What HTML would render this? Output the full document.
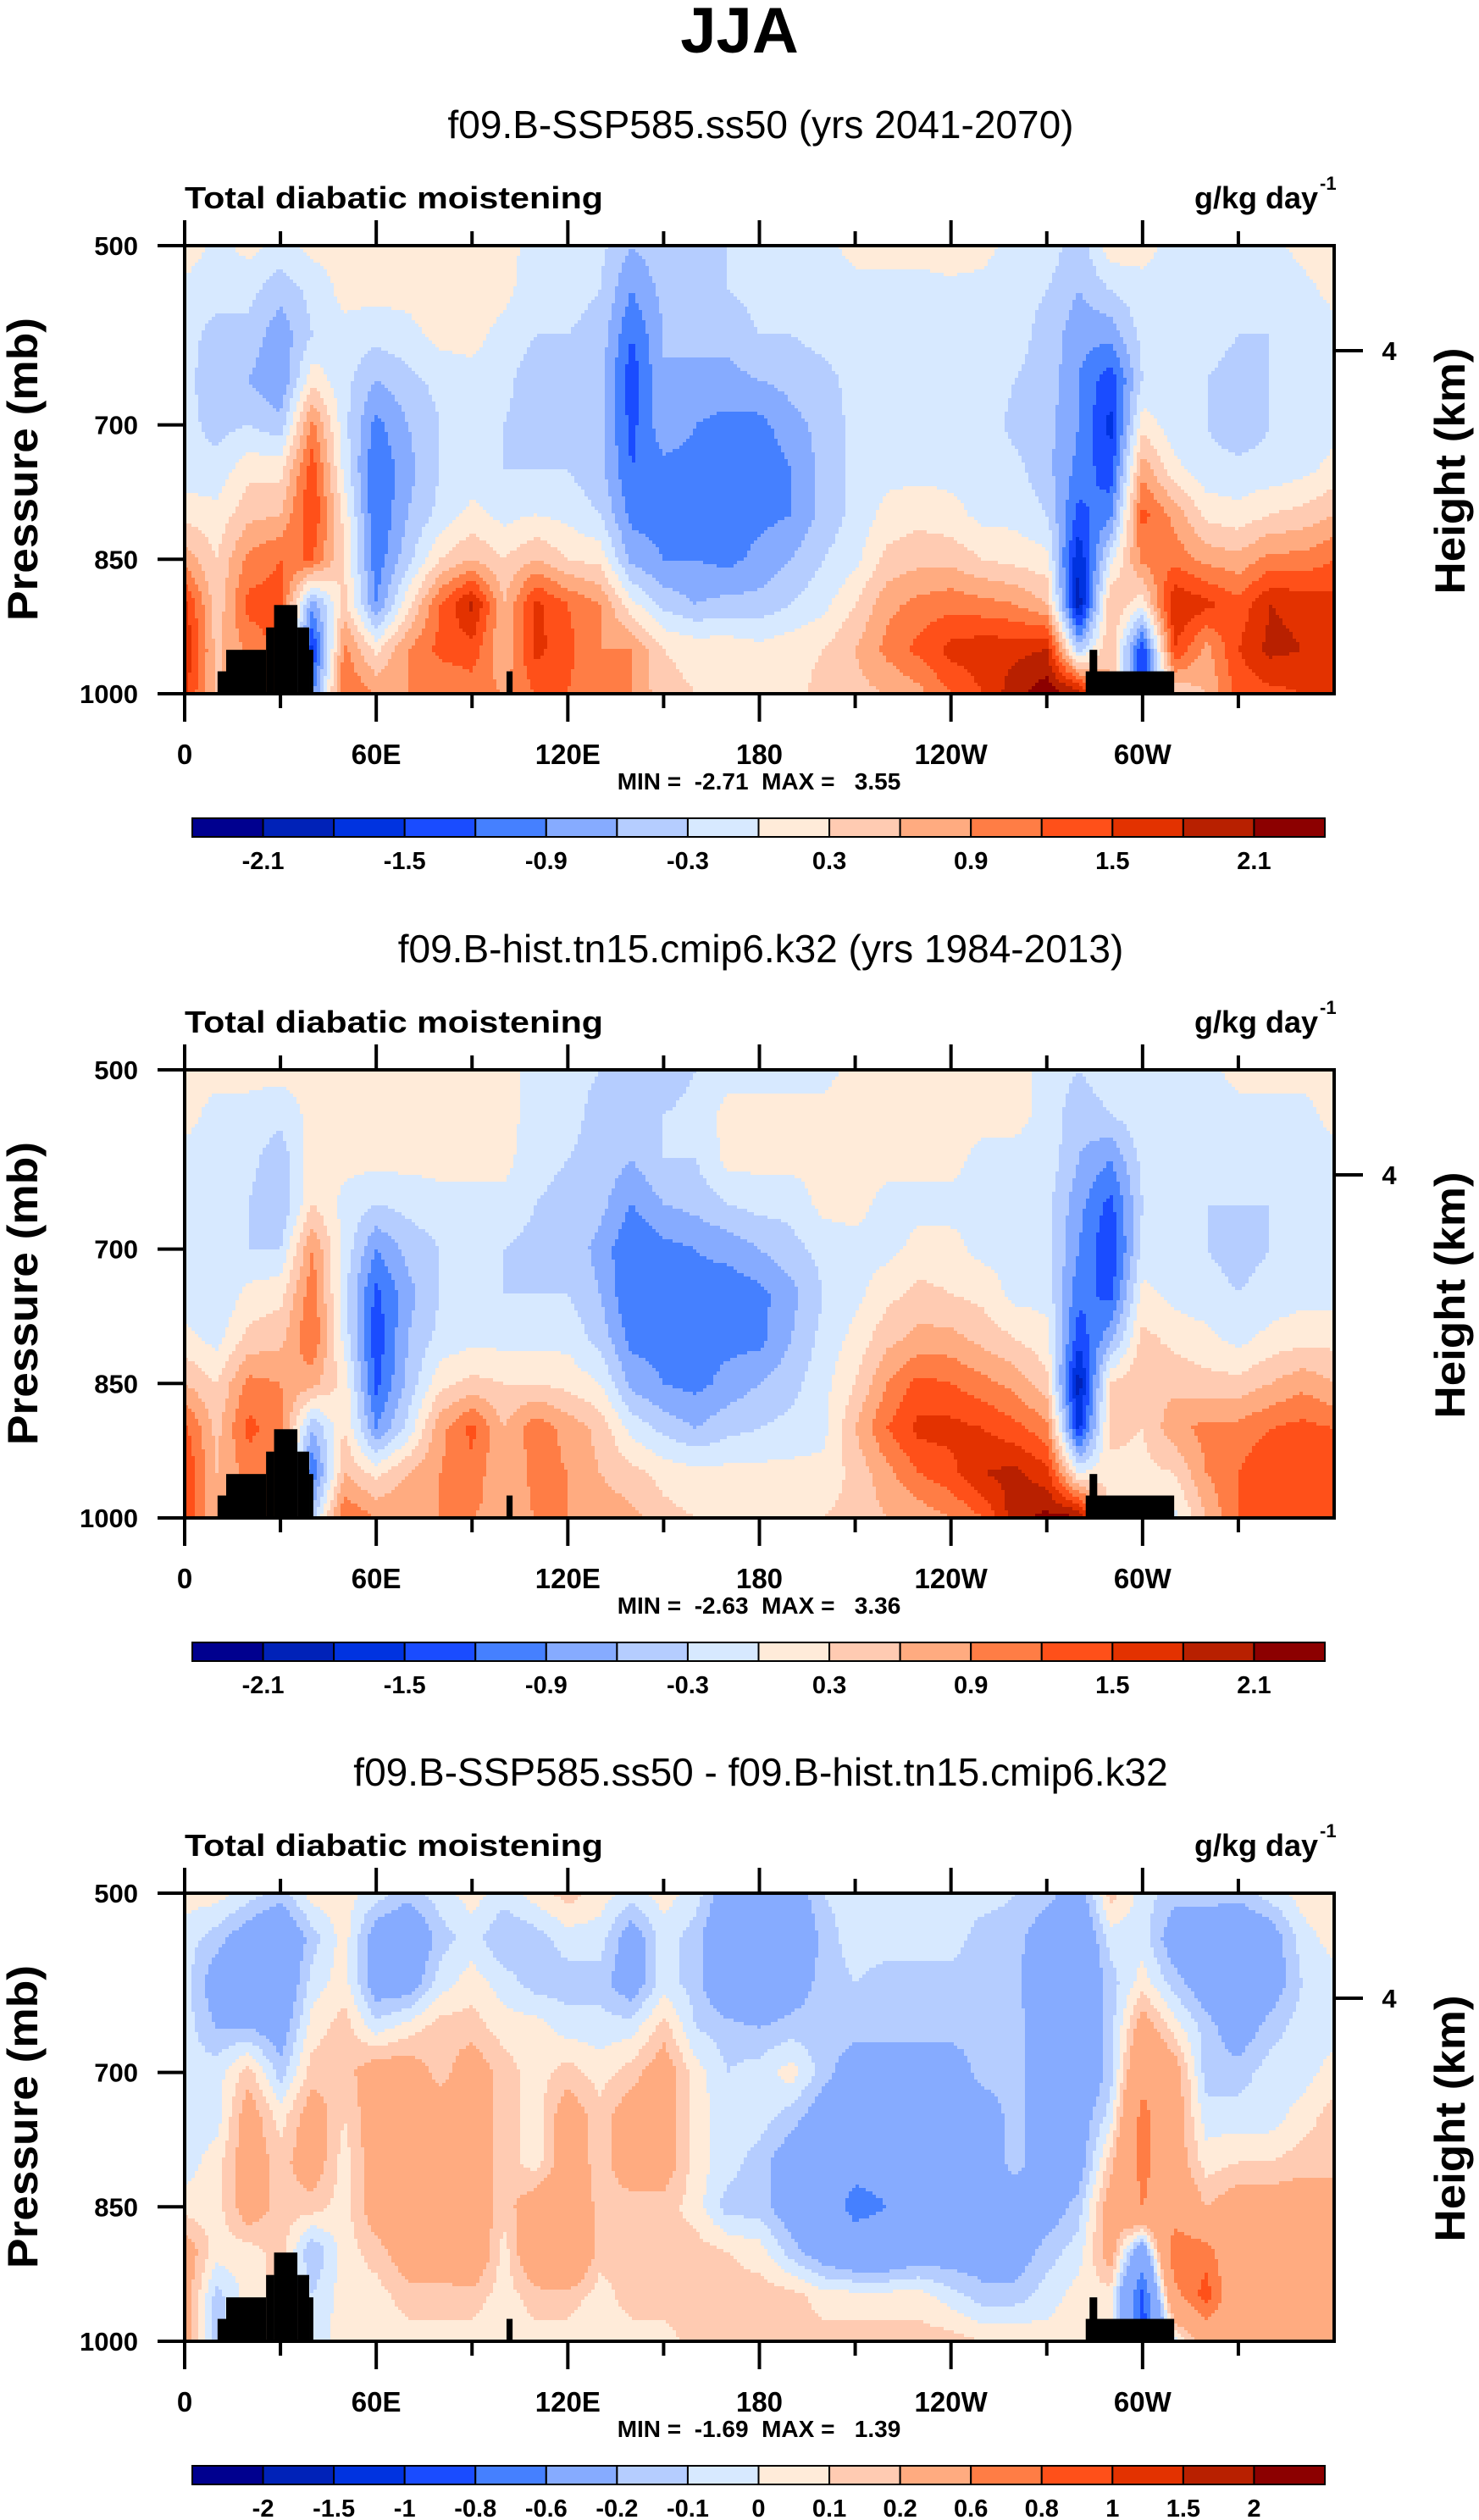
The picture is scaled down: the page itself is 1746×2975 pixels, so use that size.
<!DOCTYPE html>
<html><head><meta charset="utf-8"><title>JJA Total diabatic moistening</title>
<style>
html,body{margin:0;padding:0;background:#fff;}
svg{display:block;}
text{font-family:"Liberation Sans",Arial,sans-serif;fill:#000;}
.b{font-weight:bold;}
</style></head>
<body>
<svg id="chart" width="1746" height="2975" viewBox="0 0 1746 2975" xmlns="http://www.w3.org/2000/svg">
<text class="b" x="873" y="62" font-size="76" text-anchor="middle">JJA</text>
</svg>
<script>
// ---------- data ----------
const lons = [0,10,20,30,40,50,60,70,80,90,100,110,120,130,140,150,160,170,180,190,200,210,220,230,240,250,260,270,280,290,300,310,320,330,340,350,360];
const pressures = [500,550,600,650,700,750,800,850,900,950,1000];
const levelsMain = [-2.1,-1.8,-1.5,-1.2,-0.9,-0.6,-0.3,0,0.3,0.6,0.9,1.2,1.5,1.8,2.1];
const levelsDiff = [-2,-1.5,-1,-0.8,-0.6,-0.2,-0.1,0,0.1,0.2,0.6,0.8,1,1.5,2];
const cbLabelsMain = ["","-2.1","","-1.5","","-0.9","","-0.3","","0.3","","0.9","","1.5","","2.1",""];
const cbLabelsDiff = ["","-2","-1.5","-1","-0.8","-0.6","-0.2","-0.1","0","0.1","0.2","0.6","0.8","1","1.5","2",""];
const colors = ["#00008f","#0022b8","#0033e0","#1a4cff","#4580ff","#86abff","#b5cdff","#d7e9ff","#ffebd9","#ffcbb2","#ffab80","#ff7d45","#ff5019","#e33200","#b82000","#8c0000"];
const xTickLons = [0,60,120,180,240,300];
const xTickLabels = ["0","60E","120E","180","120W","60W"];
const yTickP = [500,700,850,1000];
const yTickLabels = ["500","700","850","1000"];
const topoLon0 = [10.3,13,25.5,28,35.3,39,100.8,282.2,283.4];
const topoLon1 = [13,25.5,28,35.3,39,40.3,102.7,309.9,285.8];
const topoP = [975,951,926,901,926,951,975,975,951];
const panelTitles = ["f09.B-SSP585.ss50 (yrs 2041-2070)","f09.B-hist.tn15.cmip6.k32 (yrs 1984-2013)","f09.B-SSP585.ss50 - f09.B-hist.tn15.cmip6.k32"];
const minMaxText = ["MIN =  -2.71  MAX =   3.55","MIN =  -2.63  MAX =   3.36","MIN =  -1.69  MAX =   1.39"];

// future (columns by longitude, values by pressure 500..1000)
const futureVals = [
[0.2,-0.1,-0.2,-0.2,-0.2,-0.2,0.2,0.8,1.6,1.8,1.6],
[-0.1,-0.2,-0.4,-0.5,-0.4,-0.2,0.1,0.3,0.4,0.5,null],
[0.1,-0.2,-0.4,-0.6,-0.3,0.2,0.5,1.0,1.3,1.0,null],
[-0.1,-0.5,-0.8,-0.9,-0.5,0.2,0.6,1.2,1.3,null,null],
[0.1,-0.2,-0.3,0.2,1.0,1.4,1.5,1.2,-0.8,-1.6,-1.0],
[0.1,0.1,-0.1,-0.2,-0.2,-0.1,0.2,0.3,0.4,1.0,1.2],
[0.1,0.1,-0.2,-0.6,-1.0,-1.2,-1.2,-1.1,-0.9,0.2,0.9],
[0.1,0.1,-0.1,-0.4,-0.6,-0.7,-0.6,-0.4,0.2,0.9,0.9],
[0.1,0.2,0.1,-0.2,-0.3,-0.3,-0.2,0.3,1.2,1.3,0.9],
[0.1,0.1,0.1,-0.1,-0.2,-0.2,0.1,0.6,1.9,1.4,1.0],
[0.1,0.1,-0.1,-0.2,-0.3,-0.3,-0.1,0.3,0.6,0.6,0.9],
[-0.1,-0.2,-0.3,-0.5,-0.5,-0.3,0.0,0.6,1.6,1.6,1.2],
[-0.1,-0.2,-0.3,-0.4,-0.4,-0.3,-0.1,0.3,1.2,1.3,1.2],
[-0.2,-0.3,-0.4,-0.5,-0.5,-0.5,-0.3,0.2,0.9,0.9,0.9],
[-0.6,-0.9,-1.2,-1.4,-1.3,-1.2,-1.0,-0.7,0.1,0.9,0.9],
[-0.4,-0.5,-0.6,-0.6,-0.7,-1.0,-1.0,-0.9,-0.4,0.3,0.4],
[-0.4,-0.5,-0.5,-0.7,-0.9,-1.0,-1.0,-0.9,-0.6,0.2,0.3],
[-0.3,-0.3,-0.5,-0.7,-1.0,-1.1,-1.1,-1.0,-0.5,0.2,0.2],
[-0.2,-0.2,-0.3,-0.6,-1.0,-1.2,-1.0,-0.8,-0.5,0.1,0.2],
[-0.1,-0.1,-0.3,-0.5,-0.7,-0.9,-0.9,-0.6,-0.3,0.2,0.2],
[-0.1,-0.1,-0.2,-0.4,-0.5,-0.5,-0.5,-0.3,-0.1,0.3,0.4],
[0.1,-0.1,-0.1,-0.2,-0.2,-0.2,-0.2,-0.1,0.3,0.6,0.5],
[0.1,-0.1,-0.1,-0.1,-0.1,-0.1,0.1,0.4,0.8,1.0,0.6],
[0.1,-0.1,-0.1,-0.1,-0.1,-0.1,0.2,0.5,1.0,1.3,0.8],
[0.2,-0.1,-0.1,-0.1,-0.1,-0.1,0.1,0.5,1.1,1.6,1.2],
[0.1,-0.1,-0.1,-0.1,-0.1,-0.1,-0.1,0.3,1.0,1.7,1.5],
[-0.1,-0.2,-0.2,-0.3,-0.4,-0.2,-0.1,0.2,0.9,1.7,2.0],
[-0.1,-0.3,-0.4,-0.4,-0.5,-0.5,-0.3,0.1,0.6,1.8,2.3],
[-0.5,-0.6,-0.8,-0.9,-0.9,-1.0,-1.3,-1.8,-2.0,-0.5,2.0],
[0.2,-0.3,-0.8,-1.4,-1.6,-1.4,-1.0,-0.1,0.6,0.6,null],
[0.1,-0.1,-0.2,-0.3,0.2,0.8,1.3,1.0,0.1,-1.5,null],
[-0.1,-0.1,-0.1,-0.2,-0.2,0.1,0.8,1.1,1.8,1.5,0.3],
[-0.1,-0.2,-0.2,-0.3,-0.3,-0.2,0.2,0.8,1.6,0.8,0.6],
[-0.1,-0.3,-0.3,-0.4,-0.5,-0.2,0.1,0.7,1.3,1.5,1.3],
[-0.1,-0.2,-0.3,-0.3,-0.3,-0.2,0.3,1.0,1.8,1.9,1.4],
[0.1,-0.1,-0.3,-0.3,-0.2,-0.1,0.4,1.0,1.7,1.8,1.5],
[0.2,0.1,-0.1,-0.1,-0.1,0.1,0.6,1.2,1.6,1.8,1.6]
];
// historical
const histVals = [
[0.1,0.1,-0.1,-0.1,-0.2,-0.2,0.1,0.6,1.3,1.5,1.5],
[0.1,-0.1,-0.1,-0.2,-0.3,-0.3,-0.1,0.3,0.5,0.6,null],
[0.1,-0.1,-0.2,-0.3,-0.3,0.1,0.4,1.0,1.3,1.0,null],
[0.1,-0.2,-0.5,-0.6,-0.3,0.2,0.5,0.9,1.0,null,null],
[0.1,0.1,0.2,0.3,0.9,1.1,1.2,0.7,-0.6,-1.2,-0.4],
[0.1,0.1,0.1,-0.1,-0.1,-0.2,-0.1,0.2,0.3,0.6,1.2],
[0.3,0.3,0.1,-0.3,-0.9,-1.3,-1.4,-1.3,-0.9,0.2,0.9],
[0.2,0.3,0.1,-0.2,-0.5,-0.7,-0.6,-0.5,-0.2,0.6,0.9],
[0.1,0.1,0.1,-0.1,-0.3,-0.3,-0.2,0.2,0.8,0.9,0.9],
[0.1,0.1,0.1,-0.1,-0.2,-0.2,-0.1,0.4,1.3,1.1,0.9],
[0.1,0.1,0.1,-0.1,-0.3,-0.3,-0.1,0.3,0.6,0.6,0.8],
[-0.1,-0.1,-0.2,-0.3,-0.4,-0.3,-0.1,0.3,1.1,1.0,0.9],
[-0.2,-0.2,-0.3,-0.4,-0.4,-0.3,-0.1,0.2,0.8,0.9,0.9],
[-0.3,-0.4,-0.4,-0.5,-0.7,-0.6,-0.4,0.0,0.5,0.6,0.8],
[-0.3,-0.4,-0.6,-0.9,-1.2,-1.2,-1.0,-0.7,-0.1,0.4,0.7],
[-0.5,-0.3,-0.3,-0.6,-1.0,-1.1,-1.0,-0.9,-0.4,0.2,0.4],
[-0.3,-0.2,-0.3,-0.5,-0.9,-1.0,-1.0,-1.0,-0.6,0.1,0.3],
[-0.1,0.1,0.1,-0.3,-0.8,-1.1,-1.0,-0.8,-0.4,0.1,0.2],
[-0.1,0.1,0.1,-0.2,-0.6,-1.0,-1.0,-0.6,-0.3,0.1,0.2],
[-0.1,0.1,0.1,-0.2,-0.4,-0.7,-0.6,-0.4,-0.2,0.1,0.2],
[-0.1,0.1,0.1,0.1,-0.2,-0.3,-0.2,-0.1,-0.1,0.1,0.3],
[0.1,0.1,0.1,0.1,-0.1,-0.1,0.1,0.3,0.6,0.4,0.4],
[0.1,0.1,0.1,-0.1,-0.1,0.2,0.5,0.9,1.2,0.8,0.6],
[0.1,0.1,0.1,-0.1,0.1,0.4,0.7,1.3,1.6,1.2,0.7],
[0.1,0.1,0.1,-0.1,0.1,0.3,0.7,1.2,1.6,1.4,0.9],
[0.1,0.1,-0.1,-0.1,-0.1,0.2,0.5,1.0,1.5,1.8,1.2],
[0.1,0.1,-0.1,-0.1,-0.1,-0.1,0.3,0.8,1.3,1.9,2.0],
[-0.1,-0.1,-0.1,-0.2,-0.2,-0.1,0.1,0.4,1.0,1.6,2.2],
[-0.3,-0.5,-0.6,-0.8,-0.9,-1.1,-1.4,-2.0,-1.6,0.0,2.2],
[-0.1,-0.3,-0.9,-1.3,-1.5,-1.3,-0.7,0.3,0.4,0.2,null],
[-0.1,-0.1,-0.2,-0.3,-0.2,0.1,0.4,0.6,0.3,0.2,null],
[-0.1,-0.1,-0.1,-0.2,-0.2,-0.1,0.2,0.5,0.8,0.3,-0.1],
[-0.1,-0.1,-0.2,-0.3,-0.3,-0.2,0.1,0.4,1.0,0.9,0.6],
[0.1,-0.1,-0.2,-0.3,-0.4,-0.3,-0.1,0.4,1.0,1.2,1.2],
[0.1,-0.1,-0.1,-0.3,-0.3,-0.2,0.1,0.6,1.2,1.5,1.3],
[0.1,-0.1,-0.1,-0.2,-0.2,-0.1,0.2,0.8,1.3,1.4,1.4],
[0.1,0.1,-0.1,-0.1,-0.1,-0.1,0.2,0.6,1.2,1.4,1.5]
];
// difference
const diffVals = [
[0.05,-0.05,-0.05,-0.05,-0.05,-0.05,-0.05,0.05,0.3,0.3,0.3],
[0.05,-0.15,-0.3,-0.2,-0.05,-0.05,0.05,0.05,0.05,-0.15,null],
[-0.05,-0.3,-0.4,-0.2,0.15,0.3,0.3,0.3,0.05,null,null],
[-0.15,-0.4,-0.4,-0.3,-0.15,0.05,0.15,0.15,null,null,null],
[0.05,-0.15,-0.05,0.05,0.15,0.3,0.3,0.15,-0.2,-0.1,-0.05],
[0.05,0.05,0.05,0.15,0.15,0.1,0.05,0.05,0.05,0.05,0.05],
[-0.05,-0.3,-0.3,-0.05,0.3,0.3,0.3,0.3,0.15,0.05,0.05],
[-0.15,-0.4,-0.3,0.05,0.3,0.3,0.3,0.3,0.3,0.15,0.05],
[-0.05,-0.15,-0.05,0.15,0.15,0.3,0.3,0.3,0.3,0.15,0.05],
[0.05,-0.05,0.05,0.15,0.3,0.3,0.3,0.3,0.4,0.15,0.05],
[-0.05,-0.2,-0.05,0.05,0.15,0.15,0.15,0.15,0.05,0.05,0.05],
[0.05,-0.15,-0.15,0.05,0.05,0.05,0.05,0.3,0.4,0.15,0.05],
[0.15,-0.05,-0.15,-0.05,0.15,0.3,0.3,0.4,0.5,0.15,0.05],
[0.05,-0.05,-0.15,-0.05,0.05,0.15,0.15,0.15,0.15,0.05,0.05],
[-0.05,-0.3,-0.3,-0.05,0.15,0.3,0.3,0.15,0.15,0.15,0.05],
[0.05,-0.05,-0.05,0.15,0.3,0.3,0.3,0.15,0.15,0.15,0.05],
[-0.05,-0.15,-0.15,-0.1,0.05,0.05,0.05,0.05,0.15,0.15,0.15],
[-0.3,-0.4,-0.4,-0.15,-0.1,-0.05,-0.05,-0.15,0.1,0.15,0.15],
[-0.4,-0.45,-0.45,-0.2,-0.05,-0.05,-0.15,-0.15,0.05,0.15,0.15],
[-0.3,-0.45,-0.3,-0.15,0.05,-0.15,-0.3,-0.3,-0.15,0.15,0.15],
[-0.1,-0.15,-0.15,-0.15,-0.15,-0.3,-0.4,-0.4,-0.3,0.05,0.15],
[-0.05,-0.05,-0.1,-0.15,-0.3,-0.4,-0.5,-0.7,-0.4,0.05,0.15],
[-0.05,-0.05,-0.15,-0.15,-0.3,-0.4,-0.5,-0.6,-0.4,0.05,0.15],
[-0.05,-0.05,-0.15,-0.15,-0.3,-0.3,-0.4,-0.4,-0.3,0.05,0.15],
[-0.05,-0.05,-0.15,-0.15,-0.3,-0.3,-0.4,-0.4,-0.3,-0.05,0.15],
[-0.05,-0.15,-0.15,-0.15,-0.15,-0.3,-0.3,-0.4,-0.3,-0.15,0.1],
[-0.1,-0.15,-0.15,-0.15,-0.15,-0.15,-0.15,-0.3,-0.3,-0.15,0.1],
[-0.15,-0.3,-0.4,-0.3,-0.3,-0.3,-0.3,-0.3,-0.15,-0.05,0.05],
[-0.3,-0.4,-0.4,-0.4,-0.4,-0.3,-0.3,-0.15,-0.05,0.05,0.05],
[0.15,-0.05,-0.15,-0.15,-0.15,-0.05,0.15,0.3,0.3,0.05,null],
[-0.05,-0.05,0.05,0.3,0.5,0.7,0.7,0.6,-0.4,-0.9,null],
[-0.15,-0.3,-0.15,0.05,0.3,0.3,0.3,0.4,0.8,0.5,-0.05],
[-0.15,-0.3,-0.3,-0.15,-0.15,-0.05,0.05,0.2,0.7,0.9,0.3],
[-0.15,-0.4,-0.4,-0.3,-0.15,-0.05,0.1,0.3,0.3,0.3,0.3],
[-0.05,-0.3,-0.3,-0.15,-0.05,-0.05,0.1,0.3,0.3,0.3,0.3],
[0.05,-0.05,-0.1,-0.05,-0.05,0.05,0.15,0.3,0.3,0.3,0.3],
[0.1,0.05,-0.05,-0.05,0.05,0.15,0.15,0.3,0.3,0.3,0.3]
];

// ---------- layout ----------
const NS = "http://www.w3.org/2000/svg";
const svg = document.getElementById("chart");
const X0 = 218, X1 = 1575, Y0 = 290, Y1 = 819;
const CBX0 = 227, CBX1 = 1564, CBY0 = 966, CBY1 = 988;
const panelOffsets = [0, 973, 1945];
function xScale(lon){ return X0 + lon / 360 * (X1 - X0); }
function yScale(p){ return Y0 + (p - 500) / 500 * (Y1 - Y0); }
function mk(tag, attrs, parent){
  const e = document.createElementNS(NS, tag);
  for (const k in attrs) e.setAttribute(k, attrs[k]);
  parent.appendChild(e);
  return e;
}
function fillNulls(vals){
  return vals.map(col => { const c = col.slice(); for (let j = 1; j < c.length; j++) if (c[j] === null) c[j] = c[j-1]; return c; });
}
function sample(g, lon, p){
  const fi = Math.min(Math.max(lon / 10, 0), lons.length - 1.0001);
  const fj = Math.min(Math.max((p - 500) / 50, 0), pressures.length - 1.0001);
  const i = Math.floor(fi), j = Math.floor(fj), a = fi - i, b = fj - j;
  return g[i][j]*(1-a)*(1-b) + g[i+1][j]*a*(1-b) + g[i][j+1]*(1-a)*b + g[i+1][j+1]*a*b;
}
function levelIndex(v, levels){ const w = v + 1e-6; let k = 0; for (const L of levels) if (w >= L) k++; return k; }
function addCell(parent, x0, x1, y, h, ci){
  const r = mk("rect", {x: x0, y: y, width: x1 - x0 + 0.6, height: h + 0.6, fill: colors[ci]}, parent);
  
  
}

function drawPanel(idx, vals, levels, cbLabels){
  const oy = panelOffsets[idx];
  const g = mk("g", {transform: "translate(0," + oy + ")"}, svg);
  
  

  const t = mk("text", {x: 898, y: 163, "font-size": 46, "text-anchor": "middle"}, g);
  
  
  t.textContent = panelTitles[idx];

  const lt = mk("text", {x: 218, y: 246, "font-size": 36, "class": "b", textLength: 494, lengthAdjust: "spacingAndGlyphs"}, g);
  
  
  lt.textContent = "Total diabatic moistening";
  const ut = mk("text", {x: 1556, y: 246, "font-size": 36, "class": "b", "text-anchor": "end"}, g);
  
  
  ut.textContent = "g/kg day";
  const us = mk("text", {x: 1558, y: 224, "font-size": 22, "class": "b"}, g);
  
  
  us.textContent = "-1";

  // contour field
  const field = mk("g", {}, g);
  
  
  const grid = fillNulls(vals);
  const step = 4;
  for (let y = Y0; y < Y1; y += step){
    const h = Math.min(step, Y1 - y);
    const p = 500 + (y + h/2 - Y0) / (Y1 - Y0) * 500;
    let runStart = X0, runIdx = -1;
    for (let x = X0; x < X1; x += step){
      const w = Math.min(step, X1 - x);
      const lon = (x + w/2 - X0) / (X1 - X0) * 360;
      const ci = levelIndex(sample(grid, lon, p), levels);
      if (ci !== runIdx){
        if (runIdx >= 0) addCell(field, runStart, x, y, h, runIdx);
        runStart = x; runIdx = ci;
      }
    }
    if (runIdx >= 0) addCell(field, runStart, X1, y, h, runIdx);
  }
  // topography
  const topo = mk("g", {}, g);
  
  
  for (let k = 0; k < topoP.length; k++){
    const r = mk("rect", {x: xScale(topoLon0[k]), y: yScale(topoP[k]), width: xScale(topoLon1[k]) - xScale(topoLon0[k]), height: Y1 - yScale(topoP[k]), fill: "#000"}, topo);
    
    
  }
  // frame
  const fr = mk("rect", {x: X0, y: Y0, width: X1 - X0, height: Y1 - Y0, fill: "none", stroke: "#000", "stroke-width": 4}, g);
  
  

  // x ticks
  const xa = mk("g", {}, g);
  
  
  for (let lon = 0; lon < 360; lon += 30){
    const major = lon % 60 === 0;
    const x = xScale(lon);
    const tt = mk("line", {x1: x, x2: x, y1: Y0, y2: Y0 - (major ? 30 : 17), stroke: "#000", "stroke-width": 4}, xa);
    
    
    const tb = mk("line", {x1: x, x2: x, y1: Y1, y2: Y1 + (major ? 33 : 17), stroke: "#000", "stroke-width": 4}, xa);
    
    
  }
  for (let k = 0; k < xTickLons.length; k++){
    const tx = mk("text", {x: xScale(xTickLons[k]), y: 902, "font-size": 33, "class": "b", "text-anchor": "middle"}, xa);
    
    
    tx.textContent = xTickLabels[k];
  }
  // y ticks
  const ya = mk("g", {}, g);
  
  
  for (let k = 0; k < yTickP.length; k++){
    const y = yScale(yTickP[k]);
    const tl = mk("line", {x1: X0, x2: X0 - 32, y1: y, y2: y, stroke: "#000", "stroke-width": 4}, ya);
    
    
    const ty = mk("text", {x: 163, y: y + 11, "font-size": 31, "class": "b", "text-anchor": "end"}, ya);
    
    
    ty.textContent = yTickLabels[k];
  }
  const yt = mk("text", {transform: "translate(44,554) rotate(-90)", "font-size": 50, "class": "b", "text-anchor": "middle", textLength: 358, lengthAdjust: "spacingAndGlyphs"}, ya);
  
  
  yt.textContent = "Pressure (mb)";
  // right axis
  const ra = mk("g", {}, g);
  
  
  const rt = mk("line", {x1: X1, x2: X1 + 34, y1: 414, y2: 414, stroke: "#000", "stroke-width": 4}, ra);
  
  
  const rl = mk("text", {x: 1640, y: 425, "font-size": 31, "class": "b", "text-anchor": "middle"}, ra);
  
  
  rl.textContent = "4";
  const rtt = mk("text", {transform: "translate(1729,556) rotate(-90)", "font-size": 50, "class": "b", "text-anchor": "middle", textLength: 291, lengthAdjust: "spacingAndGlyphs"}, ra);
  
  
  rtt.textContent = "Height (km)";

  // min / max
  const mm = mk("text", {x: 896, y: 932, "font-size": 28, "class": "b", "text-anchor": "middle", "xml:space": "preserve", style: "white-space:pre"}, g);
  
  
  mm.textContent = minMaxText[idx];

  // colorbar
  const cb = mk("g", {}, g);
  
  
  const bw = (CBX1 - CBX0) / colors.length;
  for (let k = 0; k < colors.length; k++){
    const r = mk("rect", {x: CBX0 + k*bw, y: CBY0, width: bw, height: CBY1 - CBY0, fill: colors[k], stroke: "#000", "stroke-width": 2}, cb);
    
    
  }
  for (let k = 0; k < cbLabels.length; k++){
    if (!cbLabels[k]) continue;
    const tl = mk("text", {x: CBX0 + k*bw, y: 1026, "font-size": 29, "class": "b", "text-anchor": "middle"}, cb);
    
    
    tl.textContent = cbLabels[k];
  }
}
drawPanel(0, futureVals, levelsMain, cbLabelsMain);
drawPanel(1, histVals, levelsMain, cbLabelsMain);
drawPanel(2, diffVals, levelsDiff, cbLabelsDiff);
</script>
</body></html>
